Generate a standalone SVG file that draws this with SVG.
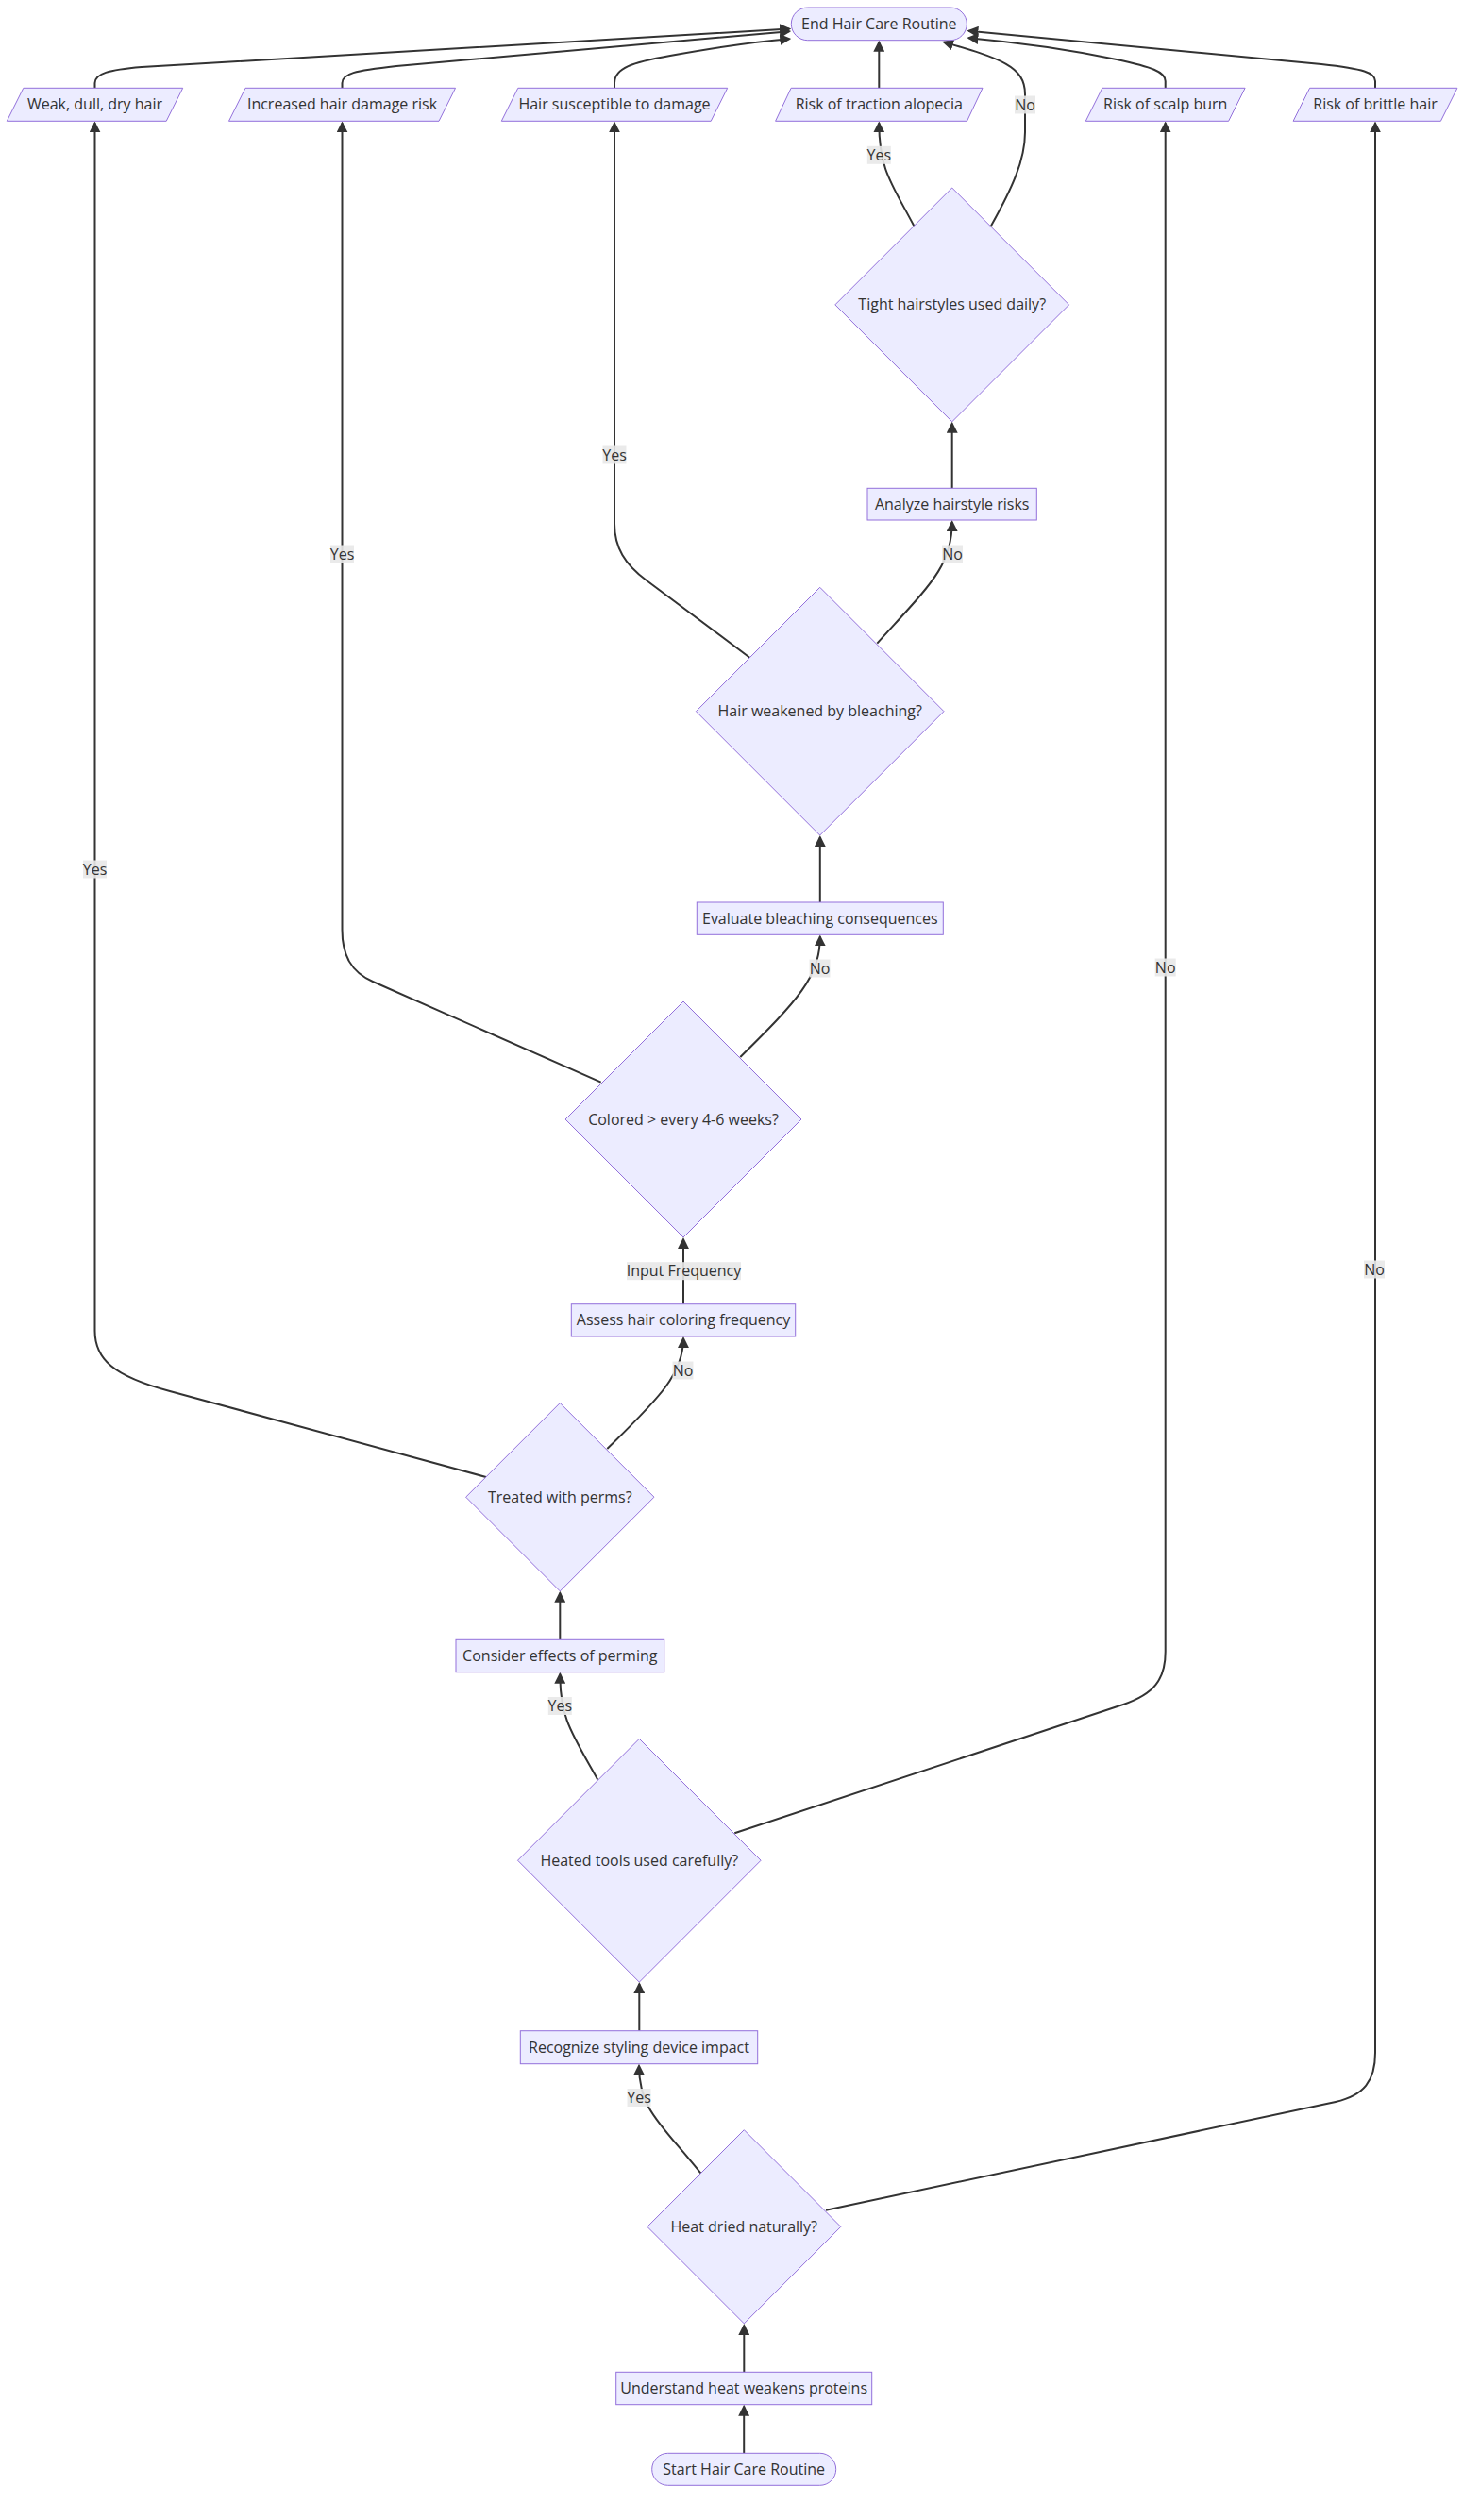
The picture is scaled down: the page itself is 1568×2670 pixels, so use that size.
<svg xmlns="http://www.w3.org/2000/svg" width="1568" height="2670" viewBox="0 0 1568 2670">
<style>
.node rect, .node polygon { fill: #ECECFF; stroke: #9370DB; stroke-width: 1; }
.node text { font-family: "Trebuchet MS", "Open Sans", "Liberation Sans", sans-serif; font-size: 16px; fill: #333333; text-anchor: middle; }
.edge { fill: none; stroke: #333333; stroke-width: 2; marker-end: url(#arrow); }
.lbl rect { fill: #e8e8e8; opacity: 0.9; }
.lbl text { font-family: "Trebuchet MS", "Open Sans", "Liberation Sans", sans-serif; font-size: 16px; fill: #333333; text-anchor: middle; }
</style>
<defs>
<marker id="arrow" viewBox="0 0 10 10" refX="8.4" refY="5" markerWidth="12" markerHeight="12" markerUnits="userSpaceOnUse" orient="auto">
<path d="M0,0 L10,5 L0,10 z" fill="#333333"/>
</marker>
</defs>
<rect x="0" y="0" width="1568" height="2670" fill="#ffffff"/>

<g id="connectors">
<path class="edge" d="M788.2,2599.3 L788.2,2549.7"/>
<path class="edge" d="M788.3,2513.3 L788.3,2464"/>
<path class="edge" d="M742.3,2302.3 C700,2250 677,2235 677,2188.7"/>
<path class="edge" d="M875,2341.7 L1415,2227 C1445,2220 1457,2205 1457,2175 L1457,130.3"/>
<path class="edge" d="M677.3,2151.7 L677.3,2102"/>
<path class="edge" d="M633.3,1885.7 C605,1835 593.3,1820 593.3,1773.7"/>
<path class="edge" d="M778.3,1942.3 L1190,1806 C1222,1795 1234.7,1780 1234.7,1750 L1234.7,130.3"/>
<path class="edge" d="M593.3,1737.3 L593.3,1687.7"/>
<path class="edge" d="M643.3,1535 C700,1480 724,1455 724,1418"/>
<path class="edge" d="M515,1565 L180,1474 C120,1458 100.5,1440 100.5,1410 L100.5,130.3"/>
<path class="edge" d="M724,1381.7 L724,1313"/>
<path class="edge" d="M784.3,1120 C845,1060 868.8,1035 868.8,992.3"/>
<path class="edge" d="M636.7,1146.7 L395,1040 C372,1030 362.5,1012 362.5,985 L362.5,130.3"/>
<path class="edge" d="M868.8,956 L868.8,887"/>
<path class="edge" d="M929.3,681.7 C985,620 1008.7,600 1008.7,553"/>
<path class="edge" d="M794.3,696.7 L685,615 C662,598 651,580 651,555 L651,130.3"/>
<path class="edge" d="M1008.7,517.3 L1008.7,448.7"/>
<path class="edge" d="M968.3,239.3 C945,195 931.3,180 931.3,130.3"/>
<path class="edge" d="M1050,239.3 C1072,200 1086,170 1086,140 L1086,100 C1086,70 1060,62 999.9,44.6"/>
<path class="edge" d="M931.3,93.3 L931.3,44.7"/>
<path class="edge" d="M100.5,93.3 L100.5,88 C100.5,78 115,74 150,71 L836.3,30.6"/>
<path class="edge" d="M362.5,93.3 L362.5,88 C362.5,78 375,75 420,70 L836.3,33.2"/>
<path class="edge" d="M651,93.3 L651,88 C651,72 670,66 710,59 C760,50 800,44 836.3,41.2"/>
<path class="edge" d="M1234.7,93.3 L1234.7,86 C1234.7,76 1220,71 1183,63 C1140,54 1080,45 1026.3,40.2"/>
<path class="edge" d="M1457,93.3 L1457,86 C1457,77 1445,73 1400,68 L1026.3,32.7"/>

<g class="lbl"><rect x="664.5" y="2213" width="25" height="19"/><text x="677" y="2228">Yes</text></g>
<g class="lbl"><rect x="1445" y="1335.5" width="22" height="19"/><text x="1456" y="1350.5">No</text></g>
<g class="lbl"><rect x="580.8" y="1798" width="25" height="19"/><text x="593.3" y="1813">Yes</text></g>
<g class="lbl"><rect x="1223.7" y="1015.5" width="22" height="19"/><text x="1234.7" y="1030.5">No</text></g>
<g class="lbl"><rect x="712.5" y="1442.5" width="22" height="19"/><text x="723.5" y="1457.5">No</text></g>
<g class="lbl"><rect x="88" y="911.5" width="25" height="19"/><text x="100.5" y="926.5">Yes</text></g>
<g class="lbl"><rect x="664" y="1337.2" width="121" height="19"/><text x="724.5" y="1352.2">Input Frequency</text></g>
<g class="lbl"><rect x="857.5" y="1016.5" width="22" height="19"/><text x="868.5" y="1031.5">No</text></g>
<g class="lbl"><rect x="350" y="577.5" width="25" height="19"/><text x="362.5" y="592.5">Yes</text></g>
<g class="lbl"><rect x="998" y="577.5" width="22" height="19"/><text x="1009" y="592.5">No</text></g>
<g class="lbl"><rect x="638.5" y="472.5" width="25" height="19"/><text x="651" y="487.5">Yes</text></g>
<g class="lbl"><rect x="918.8" y="154.8" width="25" height="19"/><text x="931.3" y="169.8">Yes</text></g>
<g class="lbl"><rect x="1075" y="101.5" width="22" height="19"/><text x="1086" y="116.5">No</text></g>
</g>

<g id="node-end" class="node">
<rect x="838.3" y="8" width="186" height="34.7" rx="17.35" ry="17.35"/>
<text x="931.3" y="30.8">End Hair Care Routine</text>
</g>
<g id="node-weak" class="node">
<polygon points="7.3,128.3 176.2,128.3 193.7,93.3 24.8,93.3"/>
<text x="100.5" y="116.3">Weak, dull, dry hair</text>
</g>
<g id="node-increased" class="node">
<polygon points="242.5,128.3 465,128.3 482.5,93.3 260,93.3"/>
<text x="362.5" y="116.3">Increased hair damage risk</text>
</g>
<g id="node-susceptible" class="node">
<polygon points="531.3,128.3 753.2,128.3 770.7,93.3 548.8,93.3"/>
<text x="651" y="116.3">Hair susceptible to damage</text>
</g>
<g id="node-traction" class="node">
<polygon points="821.6,128.3 1024.5,128.3 1041,93.3 838.1,93.3"/>
<text x="931.3" y="116.3">Risk of traction alopecia</text>
</g>
<g id="node-scalp" class="node">
<polygon points="1150.3,128.3 1301.6,128.3 1319.1,93.3 1167.8,93.3"/>
<text x="1234.7" y="116.3">Risk of scalp burn</text>
</g>
<g id="node-brittle" class="node">
<polygon points="1370.1,128.3 1526.4,128.3 1543.9,93.3 1387.6,93.3"/>
<text x="1457" y="116.3">Risk of brittle hair</text>
</g>
<g id="node-tight" class="node">
<polygon points="1008.7,199 1132.6,322.9 1008.7,446.8 884.8,322.9"/>
<text x="1008.7" y="328.4">Tight hairstyles used daily?</text>
</g>
<g id="node-analyze" class="node">
<rect x="919" y="517.3" width="179.3" height="33.7"/>
<text x="1008.7" y="539.7">Analyze hairstyle risks</text>
</g>
<g id="node-bleaching" class="node">
<polygon points="868.7,622.3 1000,753.7 868.7,885 737.4,753.7"/>
<text x="868.7" y="759.2">Hair weakened by bleaching?</text>
</g>
<g id="node-evaluate" class="node">
<rect x="738.3" y="956" width="261" height="34.3"/>
<text x="868.8" y="978.7">Evaluate bleaching consequences</text>
</g>
<g id="node-colored" class="node">
<polygon points="724,1061 849,1186 724,1311 599,1186"/>
<text x="724" y="1191.5">Colored &gt; every 4-6 weeks?</text>
</g>
<g id="node-assess" class="node">
<rect x="605.3" y="1381.7" width="237.4" height="34.3"/>
<text x="724" y="1404.3">Assess hair coloring frequency</text>
</g>
<g id="node-perms" class="node">
<polygon points="593.3,1486.5 693,1586.2 593.3,1685.9 493.6,1586.2"/>
<text x="593.3" y="1591.7">Treated with perms?</text>
</g>
<g id="node-consider" class="node">
<rect x="483" y="1737.3" width="220.7" height="34.4"/>
<text x="593.3" y="1760">Consider effects of perming</text>
</g>
<g id="node-heated" class="node">
<polygon points="677.3,1842.3 806.1,1971.2 677.3,2100.1 548.5,1971.2"/>
<text x="677.3" y="1976.7">Heated tools used carefully?</text>
</g>
<g id="node-recognize" class="node">
<rect x="551.3" y="2151.7" width="251.4" height="35"/>
<text x="677" y="2174.7">Recognize styling device impact</text>
</g>
<g id="node-heatdried" class="node">
<polygon points="788.3,2256.7 890.8,2359.3 788.3,2461.9 685.8,2359.3"/>
<text x="788.3" y="2364.8">Heat dried naturally?</text>
</g>
<g id="node-understand" class="node">
<rect x="652.7" y="2513.3" width="271" height="34.4"/>
<text x="788.2" y="2536">Understand heat weakens proteins</text>
</g>
<g id="node-start" class="node">
<rect x="690.7" y="2599.3" width="195" height="34" rx="17" ry="17"/>
<text x="788.2" y="2621.8">Start Hair Care Routine</text>
</g>
</svg>
